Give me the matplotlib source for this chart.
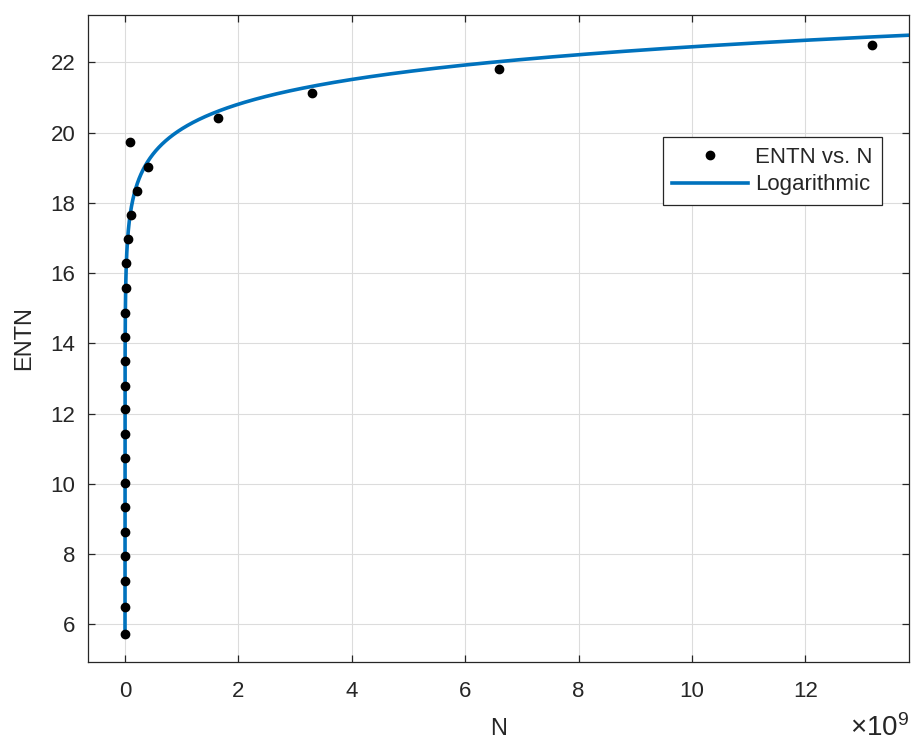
import numpy as np
import matplotlib
matplotlib.use("Agg")
import matplotlib.pyplot as plt
from matplotlib.ticker import FuncFormatter

# ---- data ----
N = [13.18e9, 6.59e9, 3.295e9, 1.6475e9, 0.0824e9, 4.119e8, 2.059e8, 1.030e8,
     5.148e7, 2.574e7, 1.287e7, 6.436e6, 3.218e6, 1.609e6, 8.045e5, 4.022e5,
     2.011e5, 1.0056e5, 5.028e4, 2.514e4, 1.257e4, 6285, 3142, 1571, 785.6]
ENTN = [22.51, 21.82, 21.13, 20.43, 19.74, 19.03, 18.34, 17.66,
        16.97, 16.28, 15.58, 14.88, 14.19, 13.50, 12.80, 12.12,
        11.42, 10.73, 10.03, 9.33, 8.64, 7.94, 7.23, 6.50, 5.74]
x_ticks = [0, 2, 4, 6, 8, 10, 12]
y_ticks = [6, 8, 10, 12, 14, 16, 18, 20, 22]
x_scale = 1e9

N = np.array(N)
ENTN = np.array(ENTN)

# logarithmic fit y = a*ln(x) + b
a, b = np.polyfit(np.log(N), ENTN, 1)

plt.rcParams['font.family'] = ['Liberation Sans', 'DejaVu Sans']
plt.rcParams['mathtext.fontset'] = 'custom'
plt.rcParams['mathtext.rm'] = 'Liberation Sans'
plt.rcParams['mathtext.it'] = 'Liberation Sans:italic'
plt.rcParams['mathtext.bf'] = 'Liberation Sans:bold'

fig = plt.figure(figsize=(9.12, 7.44), dpi=100)
ax = fig.add_axes([88/912, 1-662/744, (909-88)/912, (662-15)/744])

xlim = (-0.653e9, 13.83e9)
ylim = (4.93, 23.35)
xf = np.geomspace(N.min(), xlim[1], 4000)
ax.plot(N, ENTN, 'o', color='black', markersize=6, label='ENTN vs. N', zorder=3)
ax.plot(xf, a*np.log(xf) + b, '-', color='#0072BD', linewidth=2.6, label='Logarithmic', zorder=2)

ax.set_xlim(*xlim)
ax.set_ylim(*ylim)
ax.set_xticks([t*x_scale for t in x_ticks])
ax.set_yticks(y_ticks)
ax.xaxis.set_major_formatter(FuncFormatter(lambda v, p: f"{v/x_scale:g}"))

txtc = '#262626'
ax.grid(True, color='#dcdcdc', linewidth=0.8)
ax.set_axisbelow(True)
for s in ax.spines.values():
    s.set_color(txtc)
    s.set_linewidth(0.9)
ax.tick_params(direction='in', length=5, width=0.9, top=True, right=True,
               labelsize=16, colors=txtc)
ax.tick_params(axis='x', pad=14)
ax.tick_params(axis='y', pad=9)
ax.set_xlabel('N', fontsize=17, color=txtc, labelpad=11)
ax.set_ylabel('ENTN', fontsize=17, color=txtc, labelpad=11)

fig.text(909/912, 1-742/744, r'$\times\mathregular{10^{9}}$', ha='right', va='bottom',
         fontsize=20, color=txtc)

leg = ax.legend(loc='upper left', bbox_to_anchor=(0.700, 0.811), fontsize=16,
                handlelength=3.4, framealpha=1, fancybox=False, edgecolor=txtc,
                borderpad=0.42, labelspacing=0.3, handletextpad=0.35,
                borderaxespad=0, markerfirst=True)
leg.get_frame().set_linewidth(0.9)
for t in leg.get_texts():
    t.set_color(txtc)

fig.savefig('out.png', dpi=100)
print(a, b)
